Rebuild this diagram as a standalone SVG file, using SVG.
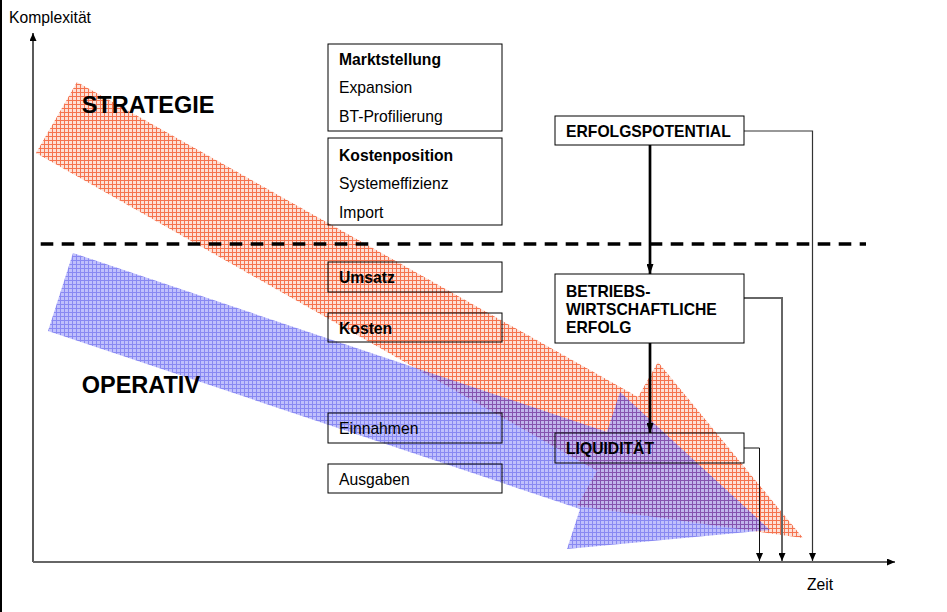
<svg xmlns="http://www.w3.org/2000/svg" width="947" height="612" viewBox="0 0 947 612">
<style>
text{font-family:"Liberation Sans",Arial,sans-serif;fill:#000}
.t{font-size:15.7px}
.b{font-size:15.7px;font-weight:bold}
.h{font-size:23.5px;font-weight:bold}
.box{fill:none;stroke:#000;stroke-width:1}
.thin{fill:none;stroke:#111;stroke-width:1}
.thick{fill:none;stroke:#000;stroke-width:2.7}
</style>
<defs>
<pattern id="redPat" width="4" height="4" patternUnits="userSpaceOnUse">
<rect width="4" height="4" fill="#fde0d6"/>
<rect width="4" height="1" fill="#f5734f"/>
<rect width="1" height="4" fill="#f5734f"/>
</pattern>
<pattern id="bluePat" width="4" height="4" patternUnits="userSpaceOnUse">
<rect width="4" height="4" fill="#9a9afa"/>
<rect width="4" height="1" fill="#4040ea"/>
<rect width="1" height="4" fill="#4040ea"/>
</pattern>
<marker id="ah" viewBox="0 0 8 7" refX="8" refY="3.5" markerWidth="8" markerHeight="7" markerUnits="userSpaceOnUse" orient="auto">
<path d="M0,0 L8,3.5 L0,7 z" fill="#000"/>
</marker>
<marker id="ahk" viewBox="0 0 10 7" refX="10" refY="3.5" markerWidth="10" markerHeight="7" markerUnits="userSpaceOnUse" orient="auto">
<path d="M0,0 L10,3.5 L0,7 z" fill="#000"/>
</marker>
</defs>
<rect x="0" y="0" width="947" height="612" fill="#fff"/>
<rect x="0" y="0" width="2" height="612" fill="#000"/>
<g id="arrow-strategie">
<polygon points="77,82 638,397 658,362 803,538 577,506 597,471 36,153" fill="url(#redPat)"/>
</g>
<g id="arrow-operativ">
<polygon points="73,253 607,432 620,392 770,530 567,549 580,509 48,331" fill="url(#bluePat)" opacity="0.62"/>
</g>
<g id="axes">
<line x1="33" y1="562" x2="33" y2="33" stroke="#000" stroke-width="1.3" marker-end="url(#ah)"/>
<line x1="33" y1="562" x2="895" y2="562" stroke="#666" stroke-width="2" marker-end="url(#ah)"/>
<line x1="40.7" y1="244" x2="866" y2="244" stroke="#000" stroke-width="3.3" stroke-dasharray="12.6 8.4"/>
</g>
<g id="labels">
<text class="t" x="9" y="23">Komplexität</text>
<text class="t" x="807" y="590">Zeit</text>
<text class="h" x="81.7" y="113.3">STRATEGIE</text>
<text class="h" x="81.7" y="392.7">OPERATIV</text>
</g>
<g id="connectors">
<line class="thick" x1="650" y1="145" x2="650" y2="274" marker-end="url(#ahk)"/>
<line class="thick" x1="650" y1="343" x2="650" y2="433" marker-end="url(#ahk)"/>
<path d="M744,131 H812.5 V561" fill="none" stroke="#333" stroke-width="1.2" marker-end="url(#ah)"/>
<path d="M744,298 H782 V561" fill="none" stroke="#666" stroke-width="2" marker-end="url(#ah)"/>
<path d="M744,448 H759.5 V561" class="thin" marker-end="url(#ah)"/>
</g>
<g id="node-marktstellung">
<rect class="box" x="328" y="44" width="174" height="87"/>
<text class="b" x="339" y="64.5">Marktstellung</text>
<text class="t" x="339" y="93">Expansion</text>
<text class="t" x="339" y="122">BT-Profilierung</text>
</g>
<g id="node-kostenposition">
<rect class="box" x="328" y="138" width="174" height="87"/>
<text class="b" x="339" y="161">Kostenposition</text>
<text class="t" x="339" y="189">Systemeffizienz</text>
<text class="t" x="339" y="218">Import</text>
</g>
<g id="node-umsatz">
<rect class="box" x="328" y="262" width="174" height="30"/>
<text class="b" x="339" y="283">Umsatz</text>
</g>
<g id="node-kosten">
<rect class="box" x="328" y="313" width="174" height="29"/>
<text class="b" x="339" y="333.5">Kosten</text>
</g>
<g id="node-einnahmen">
<rect class="box" x="328" y="413" width="174" height="30"/>
<text class="t" x="339" y="434">Einnahmen</text>
</g>
<g id="node-ausgaben">
<rect class="box" x="328" y="464" width="174" height="29"/>
<text class="t" x="339" y="485">Ausgaben</text>
</g>
<g id="node-erfolgspotential">
<rect class="box" x="555" y="116" width="189" height="29"/>
<text class="b" x="566" y="137">ERFOLGSPOTENTIAL</text>
</g>
<g id="node-betriebswirtschaftliche-erfolg">
<rect class="box" x="555" y="274" width="189" height="69"/>
<text class="b" x="566" y="297">BETRIEBS-</text>
<text class="b" x="566" y="315">WIRTSCHAFTLICHE</text>
<text class="b" x="566" y="333">ERFOLG</text>
</g>
<g id="node-liquiditaet">
<rect class="box" x="555" y="433" width="189" height="30"/>
<text class="b" x="566" y="454">LIQUIDITÄT</text>
</g>
</svg>
